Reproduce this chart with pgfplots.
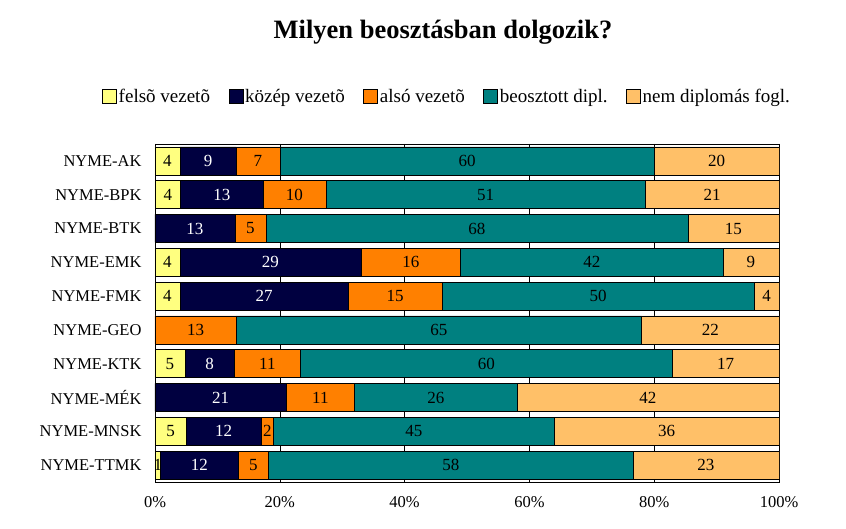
\documentclass[border=0pt]{standalone}
\usepackage{fontspec}
\setmainfont{Liberation Serif}
\usepackage{pgfplots}
\usepackage{pgfplotstable}
\pgfplotsset{compat=1.18}
\definecolor{cYel}{RGB}{255,255,128}
\definecolor{cNavy}{RGB}{0,0,64}
\definecolor{cOra}{RGB}{255,128,0}
\definecolor{cTeal}{RGB}{0,128,128}
\definecolor{cLor}{RGB}{255,192,104}
\pgfplotstableread{
idx a b c d e
0 4 9 7 60 20
1 4.1 13.2 10.1 51.2 21.4
2 0 12.8 5.0 67.6 14.6
3 4 29 16 42 9
4 4 27 15 50 4
5 0 0 13 65 22
6 4.8 7.9 10.6 59.6 17.1
7 0 21 11 26 42
8 5 12 2 45 36
9 0.9 12.4 4.9 58.4 23.4
}\datatable
\begin{document}
\begin{tikzpicture}[x=1pt,y=1pt]
\useasboundingbox (0,0) rectangle (846,529);
\begin{axis}[
  at={(155pt,47pt)}, anchor=south west,
  scale only axis, width=624pt, height=338pt,
  xbar stacked, bar width=28pt,
  xmin=0, xmax=100, ymin=-0.5, ymax=9.5, y dir=reverse,
  ytick={0,...,9},
  yticklabels={NYME-AK,NYME-BPK,NYME-BTK,NYME-EMK,NYME-FMK,NYME-GEO,NYME-KTK,NYME-MÉK,NYME-MNSK,NYME-TTMK},
  xtick={0,20,...,100},
  xticklabel={\pgfmathprintnumber{\tick}\%},
  /pgf/number format/assume math mode=true,
  xmajorgrids, major grid style={black, line width=0.6pt},
  major tick length=0pt,
  axis line style={black, line width=0.8pt},
  tick label style={font=\fontsize{16.5}{19}\selectfont},
  xticklabel style={yshift=-11pt},
  yticklabel style={xshift=-10pt},
  title={Milyen beosztásban dolgozik?},
  title style={at={(0.4615,1.313)}, anchor=center, font=\bfseries\fontsize{26.5}{30}\selectfont},
  legend style={at={(0.468,1.139)}, anchor=center, legend columns=-1, draw=none,
    font=\fontsize{19}{22}\selectfont,
    /tikz/every even column/.append style={column sep=16.5pt}},
  legend image code/.code={\draw[#1,draw=black,line width=0.6pt] (0pt,-6pt) rectangle (14pt,8pt);},
  every axis plot/.append style={draw=black, line width=0.6pt},
  point meta=rawx,
  nodes near coords={\pgfmathfloatifflags{\pgfplotspointmeta}{0}{}{\pgfmathprintnumber[fixed,precision=0]{\pgfplotspointmeta}}},
  every node near coord/.append style={anchor=center, font=\fontsize{17}{20}\selectfont, inner sep=0pt},
]
\addplot[fill=cYel] table[x=a,y=idx] {\datatable};
\addplot[fill=cNavy, every node near coord/.append style={text=white}] table[x=b,y=idx] {\datatable};
\addplot[fill=cOra] table[x=c,y=idx] {\datatable};
\addplot[fill=cTeal] table[x=d,y=idx] {\datatable};
\addplot[fill=cLor] table[x=e,y=idx] {\datatable};
\legend{felsõ vezetõ, közép vezetõ, alsó vezetõ, beosztott dipl., nem diplomás fogl.}
\end{axis}
\end{tikzpicture}
\end{document}
